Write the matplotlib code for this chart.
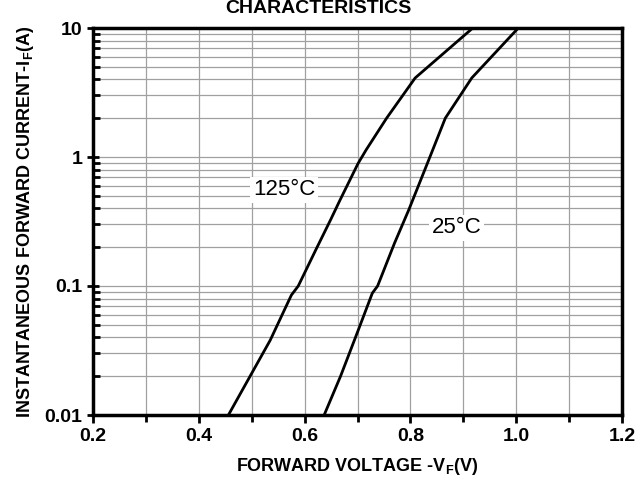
import matplotlib
matplotlib.use("Agg")
import matplotlib.pyplot as plt
from matplotlib.ticker import LogLocator, MultipleLocator, FixedLocator, NullFormatter

plt.rcParams['font.family'] = ['Liberation Sans', 'DejaVu Sans']
plt.rcParams['mathtext.fontset'] = 'custom'
plt.rcParams['mathtext.rm'] = 'Liberation Sans:bold'
plt.rcParams['mathtext.bf'] = 'Liberation Sans:bold'

# forward curves
v_125 = [0.456, 0.497, 0.535, 0.575, 0.588, 0.621, 0.649, 0.667, 0.701, 0.716, 0.755, 0.809, 0.918]
i_125 = [0.01, 0.02, 0.038, 0.085, 0.1, 0.19, 0.325, 0.464, 0.89, 1.13, 2.0, 4.1, 10.0]
v_25 = [0.637, 0.668, 0.701, 0.728, 0.738, 0.770, 0.797, 0.831, 0.842, 0.866, 0.916, 1.004]
i_25 = [0.01, 0.02, 0.045, 0.088, 0.1, 0.215, 0.39, 0.87, 1.13, 2.0, 4.1, 10.0]

x_ticks = [0.2, 0.4, 0.6, 0.8, 1.0, 1.2]
x_labels = ['0.2', '0.4', '0.6', '0.8', '1.0', '1.2']
y_ticks = [0.01, 0.1, 1, 10]
y_labels = ['0.01', '0.1', '1', '10']

fig = plt.figure(figsize=(6.37, 4.87), dpi=100)
ax = fig.add_axes([93/637, 1-415/487, (622-93)/637, (415-28)/487])

ax.set_yscale('log')
ax.set_xlim(0.2, 1.2)
ax.set_ylim(0.01, 10)

ax.xaxis.set_major_locator(FixedLocator(x_ticks))
ax.set_xticklabels(x_labels)
ax.xaxis.set_minor_locator(MultipleLocator(0.1))
ax.yaxis.set_major_locator(FixedLocator(y_ticks))
ax.set_yticklabels(y_labels)
ax.yaxis.set_minor_locator(LogLocator(base=10, subs=range(2, 10)))
ax.yaxis.set_minor_formatter(NullFormatter())

ax.grid(True, which='both', axis='both', color='#a0a0a0', linewidth=0.9)
ax.set_axisbelow(True)

ax.plot(v_125, i_125, color='black', linewidth=2)
ax.plot(v_25, i_25, color='black', linewidth=2)

ax.text(0.561, 0.555, '125°C', fontsize=16, ha='center', va='center',
        bbox=dict(facecolor='white', edgecolor='none', pad=2))
ax.text(0.888, 0.282, '25°C', fontsize=16, ha='center', va='center',
        bbox=dict(facecolor='white', edgecolor='none', pad=2))

for s in ax.spines.values():
    s.set_linewidth(2.5)

ax.tick_params(axis='both', which='major', labelsize=14, width=2, length=6, colors='black')
ax.tick_params(axis='x', which='both', direction='out')
ax.tick_params(axis='x', which='minor', width=2, length=5)
ax.tick_params(axis='y', which='major', direction='inout', length=8)
ax.tick_params(axis='y', which='minor', direction='in', width=2, length=5)
for lbl in ax.get_xticklabels() + ax.get_yticklabels():
    lbl.set_fontweight('bold')

ax.set_xlabel('FORWARD VOLTAGE -V$_\\mathbf{F}$(V)', fontsize=13, fontweight='bold', labelpad=8)
ax.set_ylabel('INSTANTANEOUS FORWARD CURRENT-I$_\\mathbf{F}$(A)', fontsize=13, fontweight='bold', labelpad=6)

fig.text(0.5, 0.999, 'CHARACTERISTICS', fontsize=14, fontweight='bold', ha='center', va='top')

fig.savefig('out.png', dpi=100)
